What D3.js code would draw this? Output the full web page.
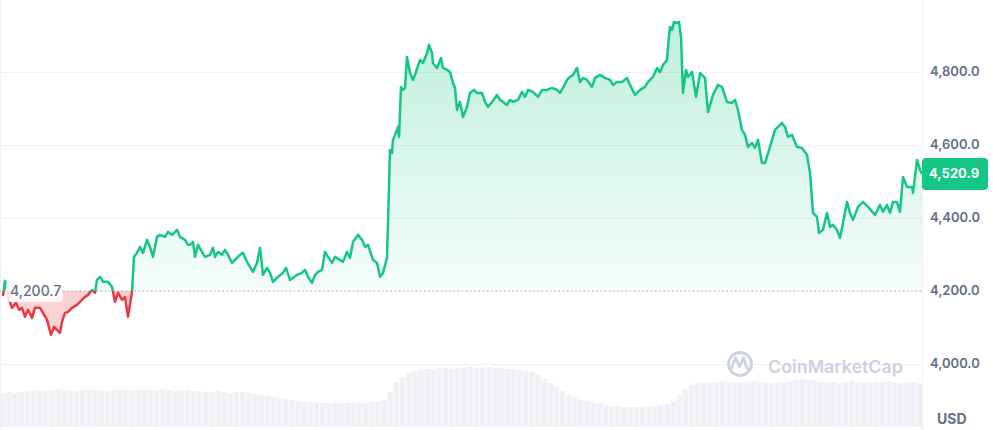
<!DOCTYPE html>
<html>
<head>
<meta charset="utf-8">
<script src="https://cdn.jsdelivr.net/npm/d3@7"></script>
<style>
  html, body { margin: 0; padding: 0; background: #ffffff; }
  svg { display: block; font-family: Inter, "Noto Sans", sans-serif; }
</style>
</head>
<body>
<svg id="chart" width="993" height="430"></svg>
<script>
// ---- data (minutes since start, price in USD) ----
const times = [0,3,9,13.5,19.5,24,28.5,33,37.5,43.5,48,55.5,60,66,72,76.5,81,85.5,88.5,93,97.5,103.5,111,118.5,123,127.5,133.5,138,141,145.5,150,157.5,163.5,168,172.5,178.5,183,187.5,193.5,196.5,201,205.5,210,216,220.5,225,231,235.5,243,247.5,253.5,261,265.5,273,277.5,280.5,285,288,292.5,298.5,303,310.5,315,318,322.5,328.5,333,337.5,343.5,348,355.5,360,366,370.5,375,381,385.5,390,396,400.5,405,412.5,420,424.5,430.5,435,441,448.5,453,457.5,463.5,468,472.5,478.5,483,487.5,493.5,498,505.5,510,516,520.5,525,532.5,538.5,543,547.5,555,561,565.5,570,576,577.5,580.5,583.5,585,591,592.5,594,597,600,603,606,610.5,615,618,625.5,630,636,639,643.5,645,651,657,660,666,670.5,675,678,681,685.5,690,696,700.5,706.5,711,718.5,723,727.5,733.5,741,745.5,750,756,760.5,765,772.5,778.5,783,787.5,795,802.5,808.5,816,823.5,831,835.5,840,846,850.5,855,861,865.5,870,876,883.5,888,895.5,903,910.5,915,921,928.5,936,940.5,948,955.5,963,967.5,975,981,985.5,990,996,997.5,1000.5,1003.5,1006.5,1011,1014,1017,1020,1024.5,1027.5,1033.5,1039.5,1045.5,1053,1057.5,1065,1072.5,1078.5,1086,1093.5,1098,1102.5,1108.5,1113,1117.5,1123.5,1128,1132.5,1138.5,1143,1150.5,1158,1162.5,1168.5,1173,1177.5,1183.5,1191,1198.5,1206,1210.5,1215,1221,1224,1230,1236,1240.5,1245,1251,1255.5,1260,1266,1270.5,1275,1282.5,1290,1297.5,1308,1315.5,1320,1326,1330.5,1335,1341,1345.5,1350,1356,1363.5,1365,1371,1375.5,1378.5];
const prices = [4187.1,4228.2,4176.2,4154.2,4167.9,4148.8,4154.2,4129.6,4148.8,4126.8,4154.2,4154.2,4140.5,4121.4,4080.3,4102.2,4094.0,4085.7,4115.9,4140.5,4143.3,4154.2,4162.5,4176.2,4184.4,4189.9,4203.6,4195.3,4231.0,4239.2,4225.5,4225.5,4211.8,4170.7,4195.3,4176.2,4184.4,4129.6,4198.1,4294.0,4304.9,4321.4,4304.9,4340.6,4321.4,4294.0,4348.8,4354.3,4348.8,4362.5,4354.3,4368.0,4348.8,4340.6,4326.9,4326.9,4335.1,4294.0,4326.9,4307.7,4294.0,4299.5,4318.6,4294.0,4307.7,4299.5,4313.2,4299.5,4277.5,4285.8,4299.5,4304.9,4280.3,4266.6,4252.9,4277.5,4318.6,4244.7,4263.8,4250.1,4225.5,4239.2,4250.1,4263.8,4231.0,4236.4,4244.7,4250.1,4258.4,4239.2,4222.7,4244.7,4252.9,4258.4,4307.7,4294.0,4277.5,4294.0,4285.8,4280.3,4307.7,4291.2,4335.1,4354.3,4340.6,4321.4,4326.9,4285.8,4277.5,4239.2,4250.1,4291.2,4387.1,4587.2,4578.9,4614.6,4642.0,4650.2,4622.8,4759.8,4751.6,4757.0,4842.0,4798.1,4779.0,4792.7,4833.8,4825.5,4852.9,4874.9,4852.9,4825.5,4811.8,4839.2,4811.8,4806.4,4800.9,4770.7,4757.0,4696.8,4718.7,4677.6,4705.0,4743.3,4751.6,4743.3,4743.3,4718.7,4705.0,4718.7,4737.9,4724.2,4718.7,4710.5,4724.2,4718.7,4724.2,4746.1,4732.4,4751.6,4746.1,4732.4,4751.6,4751.6,4757.0,4751.6,4743.3,4757.0,4779.0,4787.2,4792.7,4811.8,4773.5,4784.4,4779.0,4759.8,4784.4,4792.7,4784.4,4779.0,4765.3,4773.5,4773.5,4784.4,4765.3,4737.9,4751.6,4759.8,4773.5,4787.2,4811.8,4800.9,4820.1,4833.8,4869.4,4924.2,4916.0,4937.9,4935.1,4937.9,4896.8,4743.3,4806.4,4787.2,4800.9,4732.4,4798.1,4784.4,4691.3,4737.9,4765.3,4759.8,4718.7,4715.9,4724.2,4696.8,4642.0,4628.3,4595.4,4606.3,4592.6,4614.6,4551.5,4551.5,4595.4,4642.0,4650.2,4661.1,4650.2,4622.8,4628.3,4595.4,4592.6,4573.5,4524.1,4414.5,4403.6,4359.7,4368.0,4414.5,4376.2,4381.7,4368.0,4346.0,4387.1,4444.7,4414.5,4395.4,4431.0,4444.7,4431.0,4409.1,4436.5,4417.3,4436.5,4414.5,4444.7,4444.7,4417.3,4513.2,4485.8,4485.8,4469.3,4559.8,4532.4,4520.9];
const volumes = [34,35,34,35,
  36,37,37,36,37,38,37,37,36,37,38,37,37,36,37,38,37,37,
  37,38,37,37,38,37,36,37,37,
  36,36,35,35,36,35,34,35,35,34,
  33,32,31,30,29,28,27,26,
  25,25,24,24,24,25,24,24,24,25,24,25,26,27,
  35,45,50,54,
  56,57,58,58,59,59,58,59,59,60,59,59,60,59,59,58,58,57,56,55,
  52,48,44,40,36,
  32,29,27,26,25,24,
  22,21,21,20,20,20,20,21,21,22,23,
  26,32,38,42,44,
  45,44,45,46,45,45,44,45,46,45,45,44,45,45,46,47,48,47,47,46,45,45,44,45,46,45,45,44,45,45,46,45,44,45,45,44];
const yTicks = [4000, 4200, 4400, 4600, 4800];
const openPrice = 4200.7;
const lastPrice = 4520.9;
const currency = "USD";
const brand = "CoinMarketCap";

// ---- layout ----
const W = 993, H = 430;
const plotLeft = 3, plotRight = 922, plotBottom = 405;
const green = "#16c784", red = "#ea3943";
const labelColor = "#616e85";
const gridColor = "#eff2f5";

const svg = d3.select("#chart");
const fmt = d3.format(",.1f");

const x = d3.scaleLinear().domain([times[0], times[times.length - 1]]).range([plotLeft, plotRight]);
const y = d3.scaleLinear().domain([3888, 4998]).range([plotBottom, 0]);
const xv = d3.scaleBand().domain(d3.range(volumes.length)).range([0, plotRight]).paddingInner(0.1);
const yv = d3.scaleLinear().domain([0, 70]).range([427, 357]);

const data = times.map((t, i) => ({ t, p: prices[i] }));
const yBase = y(openPrice);

const defs = svg.append("defs");
const gGrad = defs.append("linearGradient").attr("id", "gfill")
  .attr("gradientUnits", "userSpaceOnUse").attr("x1", 0).attr("x2", 0).attr("y1", 0).attr("y2", yBase);
gGrad.append("stop").attr("offset", 0).attr("stop-color", green).attr("stop-opacity", 0.3);
gGrad.append("stop").attr("offset", 1).attr("stop-color", green).attr("stop-opacity", 0.04);
const rGrad = defs.append("linearGradient").attr("id", "rfill")
  .attr("gradientUnits", "userSpaceOnUse").attr("x1", 0).attr("x2", 0).attr("y1", yBase).attr("y2", y(4080));
rGrad.append("stop").attr("offset", 0).attr("stop-color", red).attr("stop-opacity", 0.24);
rGrad.append("stop").attr("offset", 1).attr("stop-color", red).attr("stop-opacity", 0.2);

defs.append("clipPath").attr("id", "above").append("rect")
  .attr("x", 0).attr("y", 0).attr("width", plotRight).attr("height", yBase);
defs.append("clipPath").attr("id", "below").append("rect")
  .attr("x", 0).attr("y", yBase).attr("width", plotRight).attr("height", H - yBase);

// volume bars
svg.append("g").selectAll("rect").data(volumes).join("rect")
  .attr("x", (d, i) => xv(i)).attr("width", xv.bandwidth())
  .attr("y", d => yv(d)).attr("height", d => yv(0) - yv(d))
  .attr("fill", "#eff1f5");

// grid
svg.append("g").selectAll("line").data(yTicks).join("line")
  .attr("x1", 0).attr("x2", plotRight)
  .attr("y1", d => Math.round(y(d)) + 0.5).attr("y2", d => Math.round(y(d)) + 0.5)
  .attr("stroke", gridColor).attr("stroke-width", 1);
svg.append("line").attr("x1", plotRight + 0.5).attr("x2", plotRight + 0.5).attr("y1", 0).attr("y2", H)
  .attr("stroke", gridColor);
svg.append("line").attr("x1", 0.5).attr("x2", 0.5).attr("y1", 0).attr("y2", H)
  .attr("stroke", gridColor);

// watermark
const wm = svg.append("g").attr("fill", "none").attr("stroke", "#cbd2de");
wm.append("circle").attr("cx", 740).attr("cy", 364).attr("r", 11.5).attr("stroke-width", 2.8);
wm.append("path").attr("d", "M731,369.5 L735.5,357.5 L739.5,367 L743.5,357.5 L746.5,367 Q748,370.5 751.5,368")
  .attr("stroke-width", 2.6).attr("stroke-linejoin", "round").attr("stroke-linecap", "round");
const wmText = svg.append("text").attr("x", 768).attr("y", 373)
  .attr("font-size", 20).attr("font-weight", 600).attr("fill", "#cbd2de").text(brand);
const wl = wmText.node().getComputedTextLength();
if (wl > 0) wmText.attr("font-size", 20 * 135 / wl);

// areas
const area = d3.area().x(d => x(d.t)).y0(yBase).y1(d => y(d.p));
svg.append("path").datum(data).attr("d", area).attr("fill", "url(#gfill)").attr("clip-path", "url(#above)");
svg.append("path").datum(data).attr("d", area).attr("fill", "url(#rfill)").attr("clip-path", "url(#below)");

// baseline
svg.append("line").attr("x1", 0).attr("x2", plotRight).attr("y1", yBase).attr("y2", yBase)
  .attr("stroke", "#9aa3b2").attr("stroke-width", 1).attr("stroke-dasharray", "1.2,3");

// lines
const line = d3.line().x(d => x(d.t)).y(d => y(d.p));
svg.append("path").datum(data).attr("d", line).attr("fill", "none").attr("stroke", green)
  .attr("stroke-width", 2.5).attr("stroke-linejoin", "round").attr("clip-path", "url(#above)");
svg.append("path").datum(data).attr("d", line).attr("fill", "none").attr("stroke", red)
  .attr("stroke-width", 2.5).attr("stroke-linejoin", "round").attr("clip-path", "url(#below)");

// open price label
svg.append("rect").attr("x", 6).attr("y", yBase - 9).attr("width", 57).attr("height", 20).attr("rx", 4)
  .attr("fill", "#ffffff").attr("fill-opacity", 0.85);
svg.append("text").attr("x", 10).attr("y", yBase + 1).attr("dominant-baseline", "middle")
  .attr("font-size", 14).attr("font-weight", 500).attr("fill", labelColor).text(fmt(openPrice));

// y axis labels
svg.append("g").selectAll("text").data(yTicks).join("text")
  .attr("x", 930).attr("y", d => y(d)).attr("dominant-baseline", "middle")
  .attr("font-size", 13).attr("font-weight", 600).attr("fill", labelColor)
  .text(d => fmt(d));

// last price tag
const yl = y(lastPrice);
svg.append("rect").attr("x", plotRight).attr("y", yl - 16).attr("width", 66).attr("height", 32).attr("rx", 4)
  .attr("fill", green);
svg.append("text").attr("x", 929).attr("y", yl).attr("dominant-baseline", "middle")
  .attr("font-size", 13).attr("font-weight", 700).attr("fill", "#ffffff").text(fmt(lastPrice));

// currency
svg.append("text").attr("x", 937).attr("y", 420).attr("dominant-baseline", "middle")
  .attr("font-size", 14).attr("font-weight", 700).attr("fill", labelColor).text(currency);
</script>
</body>
</html>
